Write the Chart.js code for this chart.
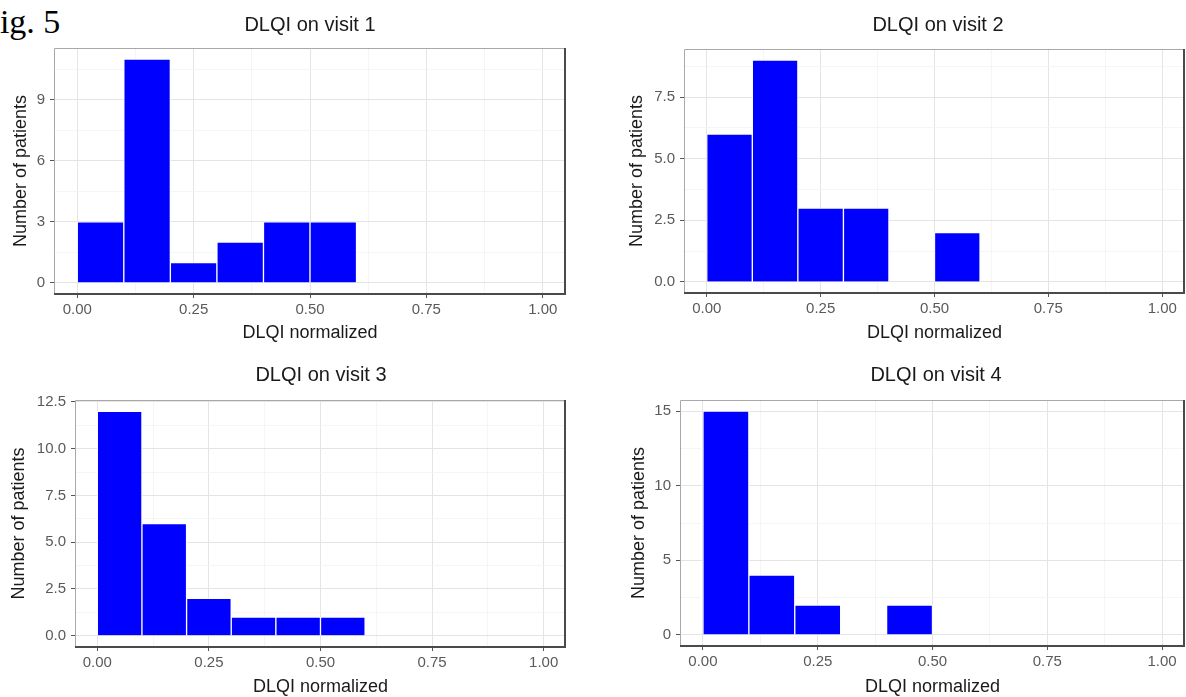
<!DOCTYPE html>
<html>
<head>
<meta charset="utf-8">
<title>DLQI histograms</title>
<script src="https://cdn.jsdelivr.net/npm/chart.js@4.4.1/dist/chart.umd.min.js"></script>
<style>
  html, body { margin: 0; padding: 0; background: #fff; }
  body { width: 1186px; height: 697px; overflow: hidden; position: relative; }
  canvas { position: absolute; }
  #fig { position: absolute; left: -19px; top: 5px; font: 34px 'Liberation Serif', 'Times New Roman', serif; line-height: 1; color: #000; }
</style>
</head>
<body>
<div id="fig">Fig. 5</div>
<canvas id="visit1"></canvas>
<canvas id="visit2"></canvas>
<canvas id="visit3"></canvas>
<canvas id="visit4"></canvas>
<script>
'use strict'
// histogram bins (width 0.1), mid points of each bin
const binMids = [0.05, 0.15, 0.25, 0.35, 0.45, 0.55]
// number of patients per bin, one array per visit
const visit1 = [3, 11, 1, 2, 3, 3]
const visit2 = [6, 9, 3, 3, 0, 2]
const visit3 = [12, 6, 2, 1, 1, 1]
const visit4 = [15, 4, 2, 0, 2]
// axis ticks
const xTickValues = [0, 0.25, 0.5, 0.75, 1]
const xTickLabels = ['0.00', '0.25', '0.50', '0.75', '1.00']
const yTicks1 = [0, 3, 6, 9]
const yLabels1 = ['0', '3', '6', '9']
const yTicks2 = [0, 2.5, 5, 7.5]
const yLabels2 = ['0.0', '2.5', '5.0', '7.5']
const yTicks3 = [0, 2.5, 5, 7.5, 10, 12.5]
const yLabels3 = ['0.0', '2.5', '5.0', '7.5', '10.0', '12.5']
const yTicks4 = [0, 5, 10, 15]
const yLabels4 = ['0', '5', '10', '15']

const titles = ['DLQI on visit 1', 'DLQI on visit 2', 'DLQI on visit 3', 'DLQI on visit 4']
const xTitle = 'DLQI normalized'
const yTitle = 'Number of patients'

const FONT = "'Liberation Sans', Arial, Helvetica, sans-serif"

// where each panel goes on the page and how much room its axes take
const panels = [
    { id: 'visit1', counts: visit1, yTicks: yTicks1, yLabels: yLabels1,
      L: 0, T: 0, W: 620, H: 344, yw: 54, xh: 50, pr: 54, tPad: [13, 11], xtPad: 0.2, ytPad: 10.2 },
    { id: 'visit2', counts: visit2, yTicks: yTicks2, yLabels: yLabels2,
      L: 620, T: 0, W: 636, H: 345, yw: 64, xh: 52, pr: 71, tPad: [13, 12], xtPad: 1.2, ytPad: 6.7 },
    { id: 'visit3', counts: visit3, yTicks: yTicks3, yLabels: yLabels3,
      L: 0, T: 350, W: 642, H: 349, yw: 75, xh: 52, pr: 76, tPad: [13, 13], xtPad: 1.2, ytPad: 8.2 },
    { id: 'visit4', counts: visit4, yTicks: yTicks4, yLabels: yLabels4,
      L: 620, T: 350, W: 632, H: 349, yw: 60, xh: 53, pr: 67, tPad: [13, 13], xtPad: 1.2, ytPad: 8.2 }
]

// ggplot style minor breaks: half way between majors (and one past the last)
function withMinor(major, max) {
    const step = major[1] - major[0]
    const all = []
    major.forEach(v => {
        all.push(v)
        if (v + step / 2 <= max) all.push(v + step / 2)
    })
    return all
}

// frame round the panel: light top/left, dark bottom/right
const panelFrame = {
    id: 'panelFrame',
    afterDatasetsDraw(chart) {
        const { ctx, chartArea: a } = chart
        ctx.save()
        ctx.lineWidth = 1
        ctx.strokeStyle = '#a8a8a8'
        ctx.beginPath()
        ctx.moveTo(a.left + 0.5, a.bottom)
        ctx.lineTo(a.left + 0.5, a.top + 0.5)
        ctx.lineTo(a.right, a.top + 0.5)
        ctx.stroke()
        ctx.lineWidth = 2
        ctx.strokeStyle = '#4a4a4a'
        ctx.beginPath()
        ctx.moveTo(a.left, a.bottom)
        ctx.lineTo(a.right - 1, a.bottom)
        ctx.lineTo(a.right - 1, a.top)
        ctx.stroke()
        ctx.restore()
    }
}

function gridStyle(majors) {
    const isMajor = c => !!c.tick && majors.includes(c.tick.value)
    return {
        offset: false,
        color: c => isMajor(c) ? '#e4e4e4' : '#f2f2f2',
        lineWidth: c => isMajor(c) ? 1 : 0.8,
        tickColor: c => isMajor(c) ? '#555' : 'rgba(0,0,0,0)',
        tickLength: 4,
        tickWidth: 1
    }
}

function zeroPadding(scale) {
    scale.paddingTop = 0
    scale.paddingBottom = 0
    scale.paddingLeft = 0
    scale.paddingRight = 0
}

function drawPanel(p, i) {
    const canvas = document.getElementById(p.id)
    canvas.width = p.W
    canvas.height = p.H
    canvas.style.left = p.L + 'px'
    canvas.style.top = p.T + 'px'

    const yMax = Math.max(...p.counts)
    const yMin = -0.05 * yMax
    const yTop = 1.05 * yMax
    const xAll = withMinor(xTickValues, 1.05)
    const yAll = withMinor(p.yTicks, yTop)

    new Chart(canvas.getContext('2d'), {
        type: 'bar',
        data: {
            datasets: [{
                data: p.counts.map((n, k) => ({ x: binMids[k], y: n })),
                backgroundColor: '#0000ff',
                borderColor: '#ffffff',
                borderWidth: 1,
                barPercentage: 1,
                categoryPercentage: 1,
                grouped: false
            }]
        },
        options: {
            responsive: false,
            devicePixelRatio: 1,
            animation: false,
            layout: { padding: 0 },
            plugins: {
                legend: { display: false },
                tooltip: { enabled: false },
                title: {
                    display: true,
                    text: titles[i],
                    color: '#1a1a1a',
                    font: { family: FONT, size: 20, weight: 'normal', lineHeight: 1.2 },
                    padding: { top: p.tPad[0], bottom: p.tPad[1] }
                }
            },
            scales: {
                x: {
                    type: 'linear',
                    offset: false,
                    min: -0.05,
                    max: 1.05,
                    afterBuildTicks: s => { s.ticks = xAll.map(v => ({ value: v })) },
                    afterFit: s => { s.height = p.xh; zeroPadding(s) },
                    ticks: {
                        autoSkip: false,
                        maxRotation: 0,
                        padding: 3,
                        color: '#5a5a5a',
                        font: { family: FONT, size: 15, lineHeight: 1.2 },
                        callback: v => {
                            const k = xTickValues.indexOf(v)
                            return k < 0 ? '' : xTickLabels[k]
                        }
                    },
                    grid: gridStyle(xTickValues),
                    border: { display: false },
                    title: {
                        display: true,
                        text: xTitle,
                        color: '#1a1a1a',
                        font: { family: FONT, size: 18, lineHeight: 1.2 },
                        padding: { top: 0, bottom: p.xtPad }
                    }
                },
                y: {
                    type: 'linear',
                    min: yMin,
                    max: yTop,
                    afterBuildTicks: s => { s.ticks = yAll.map(v => ({ value: v })) },
                    afterFit: s => { s.width = p.yw; zeroPadding(s) },
                    ticks: {
                        autoSkip: false,
                        padding: 5,
                        color: '#5a5a5a',
                        font: { family: FONT, size: 15, lineHeight: 1.2 },
                        callback: v => {
                            const k = p.yTicks.indexOf(v)
                            return k < 0 ? '' : p.yLabels[k]
                        }
                    },
                    grid: gridStyle(p.yTicks),
                    border: { display: false },
                    title: {
                        display: true,
                        text: yTitle,
                        color: '#1a1a1a',
                        font: { family: FONT, size: 18, lineHeight: 1.2 },
                        padding: { top: p.ytPad, bottom: 0 }
                    }
                },
                // empty right-hand axis, only reserves space so the title stays centred on the canvas
                spacer: {
                    type: 'linear',
                    position: 'right',
                    afterFit: s => { s.width = p.pr; zeroPadding(s) },
                    ticks: { display: false },
                    grid: { display: false, drawTicks: false },
                    border: { display: false }
                }
            }
        },
        plugins: [panelFrame]
    })
}

panels.forEach(drawPanel)
</script>
</body>
</html>
